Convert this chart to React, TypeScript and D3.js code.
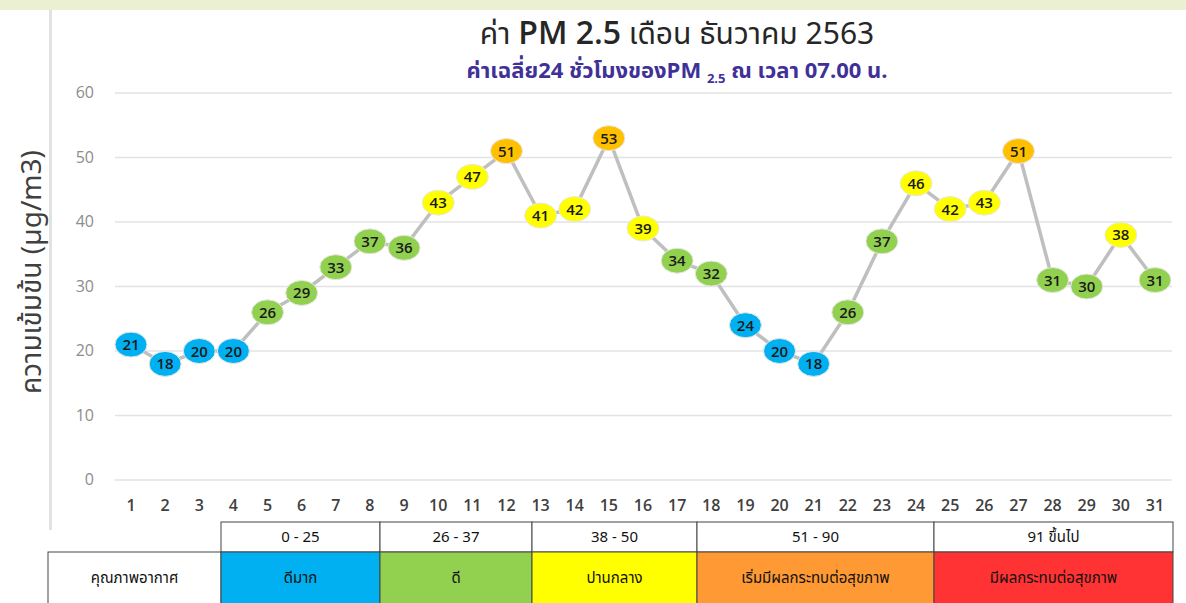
import React from "react";
import * as d3 from "d3";

const days: number[] = d3.range(1, 32);
const pm25: number[] = [21, 18, 20, 20, 26, 29, 33, 37, 36, 43, 47, 51, 41, 42, 53, 39, 34, 32, 24, 20, 18, 26, 37, 46, 42, 43, 51, 31, 30, 38, 31];
const yTicks: number[] = [0, 10, 20, 30, 40, 50, 60];
const rangeLabels: string[] = ["0 - 25", "26 - 37", "38 - 50", "51 - 90", "91 ขึ้นไป"];
const qualityLabels: string[] = ["ดีมาก", "ดี", "ปานกลาง", "เริ่มมีผลกระทบต่อสุขภาพ", "มีผลกระทบต่อสุขภาพ"];
const qualityColors: string[] = ["#00B0F0", "#92D050", "#FFFF00", "#FF9933", "#FF3333"];
const markerColors: string[] = ["#00B0F0", "#92D050", "#FFFF00", "#FFC000"];
const colEdges: number[] = [221, 380, 532, 697, 934, 1173];

function markerColor(v: number): string {
  if (v <= 25) return markerColors[0];
  if (v <= 37) return markerColors[1];
  if (v <= 50) return markerColors[2];
  return markerColors[3];
}

export default function App() {
  const W = 1186, H = 603;
  const x = d3.scaleLinear().domain([1, 31]).range([131, 1155]);
  const y = d3.scaleLinear().domain([0, 60]).range([480, 93]);
  const line = d3.line<number>().x((_, i) => x(days[i])).y((d) => y(d));
  const thai = "Tahoma, 'Noto Sans Thai', 'Noto Sans', sans-serif";
  const num = "'Open Sans', 'DejaVu Sans', sans-serif";

  return (
    <svg width={W} height={H} style={{ position: "absolute", left: 0, top: 0, background: "#fff" }}>
      <rect x={0} y={0} width={W} height={H} fill="#fff" />
      <rect x={0} y={0} width={W} height={10} fill="#EBF0D3" />
      <rect x={49} y={10} width={3} height={520} fill="#E2E2E2" />

      {/* Title */}
      <text x={677} y={44} textAnchor="middle" fill="#262626" fontFamily={thai}>
        <tspan fontSize={30}>ค่า </tspan>
        <tspan fontSize={32} fontFamily="'Open Sans', sans-serif" fontWeight={600}>PM 2.5</tspan>
        <tspan fontSize={30}> เดือน ธันวาคม 2563</tspan>
      </text>
      <text x={677} y={78} textAnchor="middle" fill="#3F3197" fontFamily={thai} fontWeight="bold" fontSize={22}>
        <tspan>ค่าเฉลี่ย24 ชั่วโมงของPM </tspan>
        <tspan fontSize={13} dy={5}>2.5</tspan>
        <tspan dy={-5}> ณ เวลา 07.00 น.</tspan>
      </text>

      {/* Y axis label */}
      <text transform="translate(41,272) rotate(-90)" textAnchor="middle" fill="#404040" fontFamily={thai} fontSize={28}>
        ความเข้มข้น (µg/m3)
      </text>

      {/* grid */}
      {yTicks.map((t) => (
        <g key={t}>
          <line x1={115} x2={1172} y1={y(t)} y2={y(t)} stroke="#E3E3E3" strokeWidth={1.5} />
          <text x={94} y={y(t) + 5} textAnchor="end" fill="#8C8C8C" fontFamily={num} fontSize={16}>{t}</text>
        </g>
      ))}

      {/* x labels */}
      {days.map((d) => (
        <text key={d} x={x(d)} y={511} textAnchor="middle" fill="#404040" fontFamily={num} fontSize={16} fontWeight={600}>{d}</text>
      ))}

      {/* line */}
      <path d={line(pm25) || ""} fill="none" stroke="#BFBFBF" strokeWidth={3.5} />

      {/* markers */}
      {pm25.map((v, i) => (
        <g key={i}>
          <ellipse cx={x(days[i])} cy={y(v)} rx={16} ry={12.5} fill={markerColor(v)} stroke="#E8E8E8" strokeWidth={1} />
          <text x={x(days[i])} y={y(v) + 5.5} textAnchor="middle" fill="#1A1A1A" fontFamily={num} fontSize={15} fontWeight={600}>{v}</text>
        </g>
      ))}

      {/* table */}
      {rangeLabels.map((r, i) => (
        <g key={r}>
          <rect x={colEdges[i]} y={522} width={colEdges[i + 1] - colEdges[i]} height={30} fill="#fff" stroke="#444" strokeWidth={1} />
          <text x={(colEdges[i] + colEdges[i + 1]) / 2} y={542} textAnchor="middle" fill="#111" fontFamily={thai} fontSize={15}>{r}</text>
        </g>
      ))}
      <rect x={48} y={552} width={colEdges[0] - 48} height={60} fill="#fff" stroke="#444" strokeWidth={1} />
      <text x={(48 + colEdges[0]) / 2} y={583} textAnchor="middle" fill="#111" fontFamily={thai} fontSize={15}>คุณภาพอากาศ</text>
      {qualityLabels.map((q, i) => (
        <g key={q}>
          <rect x={colEdges[i]} y={552} width={colEdges[i + 1] - colEdges[i]} height={60} fill={qualityColors[i]} stroke="#444" strokeWidth={1} />
          <text x={(colEdges[i] + colEdges[i + 1]) / 2} y={583} textAnchor="middle" fill="#111" fontFamily={thai} fontSize={15}>{q}</text>
        </g>
      ))}
    </svg>
  );
}
